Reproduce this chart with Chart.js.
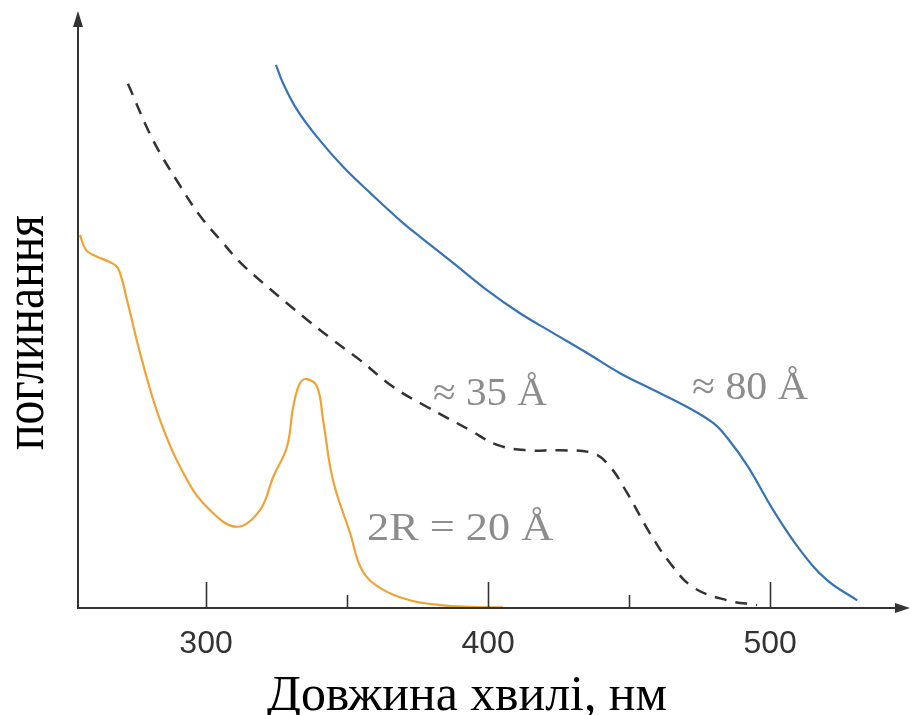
<!DOCTYPE html>
<html><head><meta charset="utf-8">
<script src="https://cdn.jsdelivr.net/npm/chart.js@4.4.0/dist/chart.umd.min.js"></script>
<style>html,body{margin:0;padding:0;background:#fff}</style>
</head><body>
<canvas id="c" width="911" height="715"></canvas>
<script>
// ---- data (wavelength in nm, absorption in arbitrary units 0..100) ----
const xTickValues = [300, 350, 400, 450, 500];
const xTickLabels = ['300', '', '400', '', '500'];
const majorTicks = [300, 400, 500];

const wl20 = [255.3, 257.4, 260.6, 266.0, 268.8, 272.0, 276.6, 283.7, 293.3, 301.4, 311.0, 319.1, 323.8, 328.7, 330.9, 333.3, 335.8, 339.4, 341.5, 345.0, 351.1, 355.3, 361.7, 372.3, 383.0, 393.6, 405.3];
const ab20 = [62.9, 60.4, 59.4, 58.3, 57.3, 51.9, 43.0, 31.7, 21.6, 16.5, 13.7, 16.5, 22.1, 27.2, 33.9, 37.9, 38.6, 37.3, 31.7, 21.6, 12.6, 6.4, 3.4, 1.3, 0.5, 0.2, 0.1];

const wl35 = [272.3, 281.2, 290.8, 297.9, 305.0, 312.1, 320.2, 328.7, 336.9, 345.0, 354.6, 366.3, 378.4, 393.6, 403.2, 413.8, 425.5, 437.2, 443.3, 449.3, 457.4, 464.5, 472.7, 484.8, 495.4];
const ab35 = [88.4, 78.9, 71.2, 66.1, 62.1, 58.3, 54.8, 51.4, 48.2, 45.2, 41.8, 37.3, 33.9, 30.0, 27.5, 26.6, 26.6, 26.1, 23.8, 19.4, 12.6, 7.6, 3.5, 1.3, 0.5];

const wl80 = [324.8, 327.3, 332.3, 339.4, 348.6, 358.2, 369.9, 375.9, 387.6, 399.6, 411.3, 423.0, 435.1, 446.8, 458.5, 470.6, 479.8, 484.8, 492.2, 501.1, 510.6, 520.2, 530.9];
const ab80 = [91.6, 88.5, 84.0, 79.4, 74.4, 70.0, 64.9, 62.6, 58.2, 53.6, 49.7, 46.4, 43.0, 39.6, 36.8, 33.9, 31.2, 28.7, 23.8, 16.5, 9.8, 4.7, 1.3];

const seriesLabels = ['2R = 20 Å', '≈ 35 Å', '≈ 80 Å'];
const xTitle = 'Довжина хвилі, нм';
const yTitle = 'поглинання';

const toPts = (xs, ys) => xs.map((x, i) => ({x: x, y: ys[i]}));

// annotation anchors (data coords), target widths in px
const notes = [
  {text: seriesLabels[1], x: 380.5, y: 34.2, w: 114},
  {text: seriesLabels[2], x: 472.3, y: 35.2, w: 116},
  {text: seriesLabels[0], x: 357.1, y: 11.5, w: 186}
];

const axisColor = '#333333';

const deco = {
  id: 'deco',
  afterDatasetsDraw(chart) {
    const ctx = chart.ctx;
    const xs = chart.scales.x, ys = chart.scales.y;
    const x0 = chart.chartArea.left, y0 = ys.getPixelForValue(0);
    const xEnd = chart.chartArea.right;
    ctx.save();
    ctx.strokeStyle = axisColor; ctx.fillStyle = axisColor; ctx.lineWidth = 2;
    // axes
    ctx.beginPath();
    ctx.moveTo(x0, y0); ctx.lineTo(x0, 24);
    ctx.moveTo(x0 - 1, y0); ctx.lineTo(xEnd - 12, y0);
    ctx.stroke();
    ctx.beginPath();
    ctx.moveTo(x0, 11); ctx.lineTo(x0 - 5, 27); ctx.lineTo(x0 + 5, 27); ctx.closePath(); ctx.fill();
    ctx.beginPath();
    ctx.moveTo(xEnd, y0); ctx.lineTo(xEnd - 15, y0 - 5); ctx.lineTo(xEnd - 15, y0 + 5); ctx.closePath(); ctx.fill();
    // tick marks (inside)
    ctx.lineWidth = 1.6;
    xTickValues.forEach(v => {
      const px = Math.round(xs.getPixelForValue(v)) + 0.5;
      const len = majorTicks.includes(v) ? 26 : 13;
      ctx.beginPath(); ctx.moveTo(px, y0); ctx.lineTo(px, y0 - len); ctx.stroke();
    });
    // annotations
    ctx.fillStyle = '#8c8c8c';
    ctx.font = '39px "Liberation Serif", "Times New Roman", serif';
    ctx.textBaseline = 'alphabetic'; ctx.textAlign = 'left';
    notes.forEach(n => {
      const px = xs.getPixelForValue(n.x), py = ys.getPixelForValue(n.y);
      const w = ctx.measureText(n.text).width;
      ctx.save(); ctx.translate(px, py); ctx.scale(n.w / w, 1);
      ctx.fillText(n.text, 0, 0); ctx.restore();
    });
    // axis titles
    ctx.fillStyle = '#000';
    ctx.font = '51px "Liberation Serif", "Times New Roman", serif';
    let w = ctx.measureText(xTitle).width;
    ctx.save(); ctx.translate(267, 710); ctx.scale(400 / w, 1); ctx.fillText(xTitle, 0, 0); ctx.restore();
    ctx.font = '58px "Liberation Serif", "Times New Roman", serif';
    w = ctx.measureText(yTitle).width;
    ctx.save(); ctx.translate(43, 450); ctx.rotate(-Math.PI / 2); ctx.scale(235 / w, 1); ctx.fillText(yTitle, 0, 0); ctx.restore();
    ctx.restore();
  }
};

new Chart(document.getElementById('c'), {
  type: 'line',
  data: {
    datasets: [
      {label: seriesLabels[0], data: toPts(wl20, ab20), borderColor: '#f2a233', borderWidth: 2.2, pointRadius: 0, tension: 0.4, fill: false},
      {label: seriesLabels[1], data: toPts(wl35, ab35), borderColor: '#333333', borderWidth: 2.5, borderDash: [12, 9], pointRadius: 0, tension: 0.4, fill: false},
      {label: seriesLabels[2], data: toPts(wl80, ab80), borderColor: '#3573b6', borderWidth: 2.2, pointRadius: 0, tension: 0.4, fill: false}
    ]
  },
  options: {
    responsive: false,
    animation: false,
    devicePixelRatio: 1,
    layout: {padding: {top: 15, right: 1, left: 0, bottom: 0}},
    plugins: {legend: {display: false}, tooltip: {enabled: false}, title: {display: false}},
    scales: {
      x: {
        type: 'linear', min: 254.6, max: 549.6, position: 'bottom',
        grid: {display: false, drawTicks: false}, border: {display: false},
        afterBuildTicks: s => { s.ticks = xTickValues.map(v => ({value: v})); },
        afterFit: s => { s.height = 107; },
        ticks: {
          autoSkip: false, maxRotation: 0, padding: 17, color: '#333',
          font: {family: '"Liberation Sans Narrow", "Liberation Sans", Arial, sans-serif', size: 32},
          callback: (v) => { const i = xTickValues.indexOf(v); return i >= 0 ? xTickLabels[i] : ''; }
        }
      },
      y: {
        type: 'linear', min: 0, max: 100,
        grid: {display: false, drawTicks: false}, border: {display: false},
        ticks: {display: false},
        afterFit: s => { s.width = 78; }
      }
    }
  },
  plugins: [deco]
});
</script>
</body></html>
